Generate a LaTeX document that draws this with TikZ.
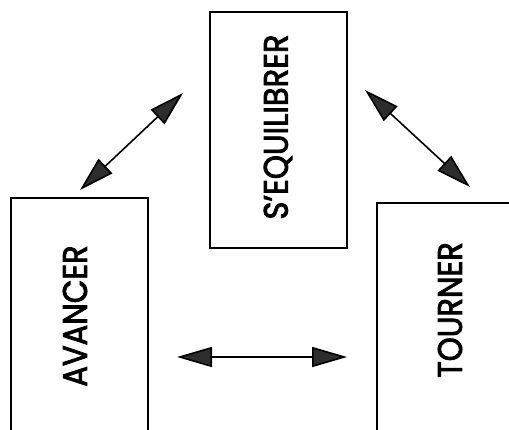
\documentclass[tikz,border=0pt]{standalone}
\usepackage{fontspec}
\setmainfont{Poppins}
\usetikzlibrary{arrows.meta}
% set a word in fill+stroke mode to thicken the regular face a little
\newcommand{\heavyword}[1]{\special{pdf:literal direct 2 Tr 0.9 w}#1\special{pdf:literal direct 0 Tr 1 w}}
\begin{document}
\begin{tikzpicture}[x=1pt,y=-1pt,
  box/.style={draw=black,line width=1.1pt,inner sep=0pt},
  word/.style={rotate=90,font=\fontsize{34}{34}\selectfont,inner sep=0pt},
  link/.style={draw=black,line width=1.6pt,{Triangle[length=35pt,width=20pt,fill=gray!35!black]}-{Triangle[length=35pt,width=20pt,fill=gray!35!black]}}]
% page area
\clip (0,0) rectangle (509,429);
\fill[white] (0,0) rectangle (509,429);

% the three boxes (the lower two run off the page)
\node[box,minimum width=137pt,minimum height=236pt] (bequi) at (278.5,130) {};
\node[box,minimum width=137pt,minimum height=236pt] (bavan) at (79.5,316) {};
\node[box,minimum width=137pt,minimum height=236pt] (btour) at (445.5,321) {};

% labels
\node[word] (tequi) at (278,127) {\scalebox{0.9}[1]{\heavyword{S\char"27 EQUILIBRER}}};
\node[word] (tavan) at (75,316) {\scalebox{0.9}[1]{\heavyword{AVANCER}}};
\node[word] (ttour) at (450,310) {\scalebox{0.9}[1]{\heavyword{TOURNER}}};

% arrow end points
\coordinate (a1) at (80,190);
\coordinate (a2) at (183,93);
\coordinate (b1) at (365,90);
\coordinate (b2) at (470,187);
\coordinate (c1) at (177,357);
\coordinate (c2) at (347,357);

\draw[link] (a1) -- (a2);
\draw[link] (b1) -- (b2);
\draw[link] (c1) -- (c2);
\end{tikzpicture}
\end{document}
